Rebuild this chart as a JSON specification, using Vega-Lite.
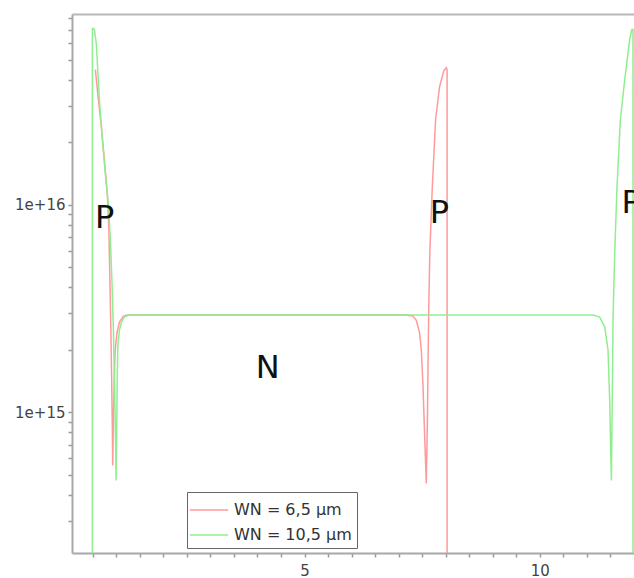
{
  "$schema": "https://vega.github.io/schema/vega-lite/v6.json",
  "autosize": "none",
  "width": 562,
  "height": 539,
  "padding": {"left": 72, "top": 14, "right": 0, "bottom": 25},
  "background": "white",
  "config": {
    "view": {"stroke": null},
    "axis": {
      "grid": false,
      "title": null,
      "domainColor": "#a8a8a8",
      "domainWidth": 2,
      "tickColor": "#999999",
      "tickWidth": 1.5,
      "labelColor": "#444444",
      "labelFont": "DejaVu Sans",
      "labelFontSize": 15,
      "labelOverlap": false,
      "labelBound": false,
      "labelFlush": false
    }
  },
  "datasets": {
    "red": [
      {"i":0,"x":0.557,"y":4.49e16,"s":"WN = 6,5 µm"},
      {"i":1,"x":0.621,"y":3.21e16,"s":"WN = 6,5 µm"},
      {"i":2,"x":0.684,"y":2.38e16,"s":"WN = 6,5 µm"},
      {"i":3,"x":0.748,"y":1.65e16,"s":"WN = 6,5 µm"},
      {"i":4,"x":0.812,"y":1.12e16,"s":"WN = 6,5 µm"},
      {"i":5,"x":0.844,"y":7.57e15,"s":"WN = 6,5 µm"},
      {"i":6,"x":0.865,"y":4.34e15,"s":"WN = 6,5 µm"},
      {"i":7,"x":0.886,"y":2.49e15,"s":"WN = 6,5 µm"},
      {"i":8,"x":0.903,"y":1.43e15,"s":"WN = 6,5 µm"},
      {"i":9,"x":0.918,"y":8.18e14,"s":"WN = 6,5 µm"},
      {"i":10,"x":0.925,"y":5.55e14,"s":"WN = 6,5 µm"},
      {"i":11,"x":0.940,"y":9.15e14,"s":"WN = 6,5 µm"},
      {"i":12,"x":0.957,"y":1.43e15,"s":"WN = 6,5 µm"},
      {"i":13,"x":0.978,"y":2.0e15,"s":"WN = 6,5 µm"},
      {"i":14,"x":1.014,"y":2.41e15,"s":"WN = 6,5 µm"},
      {"i":15,"x":1.067,"y":2.72e15,"s":"WN = 6,5 µm"},
      {"i":16,"x":1.152,"y":2.91e15,"s":"WN = 6,5 µm"},
      {"i":17,"x":1.237,"y":2.95e15,"s":"WN = 6,5 µm"},
      {"i":18,"x":7.126,"y":2.95e15,"s":"WN = 6,5 µm"},
      {"i":19,"x":7.302,"y":2.91e15,"s":"WN = 6,5 µm"},
      {"i":20,"x":7.375,"y":2.78e15,"s":"WN = 6,5 µm"},
      {"i":21,"x":7.445,"y":2.41e15,"s":"WN = 6,5 µm"},
      {"i":22,"x":7.481,"y":2.0e15,"s":"WN = 6,5 µm"},
      {"i":23,"x":7.515,"y":1.38e15,"s":"WN = 6,5 µm"},
      {"i":24,"x":7.551,"y":7.92e14,"s":"WN = 6,5 µm"},
      {"i":25,"x":7.587,"y":4.54e14,"s":"WN = 6,5 µm"},
      {"i":26,"x":7.611,"y":9.15e14,"s":"WN = 6,5 µm"},
      {"i":27,"x":7.625,"y":1.78e15,"s":"WN = 6,5 µm"},
      {"i":28,"x":7.642,"y":3.48e15,"s":"WN = 6,5 µm"},
      {"i":29,"x":7.664,"y":6.07e15,"s":"WN = 6,5 µm"},
      {"i":30,"x":7.715,"y":1.22e16,"s":"WN = 6,5 µm"},
      {"i":31,"x":7.785,"y":2.58e16,"s":"WN = 6,5 µm"},
      {"i":32,"x":7.870,"y":3.72e16,"s":"WN = 6,5 µm"},
      {"i":33,"x":7.955,"y":4.40e16,"s":"WN = 6,5 µm"},
      {"i":34,"x":8.012,"y":4.59e16,"s":"WN = 6,5 µm"},
      {"i":35,"x":8.029,"y":4.49e16,"s":"WN = 6,5 µm"},
      {"i":36,"x":8.029,"y":1e14,"s":"WN = 6,5 µm"}
    ],
    "green": [
      {"i":0,"x":0.493,"y":1e14,"s":"WN = 10,5 µm"},
      {"i":1,"x":0.493,"y":7.08e16,"s":"WN = 10,5 µm"},
      {"i":2,"x":0.515,"y":7.08e16,"s":"WN = 10,5 µm"},
      {"i":3,"x":0.536,"y":7.0e16,"s":"WN = 10,5 µm"},
      {"i":4,"x":0.578,"y":5.93e16,"s":"WN = 10,5 µm"},
      {"i":5,"x":0.642,"y":3.21e16,"s":"WN = 10,5 µm"},
      {"i":6,"x":0.706,"y":2.06e16,"s":"WN = 10,5 µm"},
      {"i":7,"x":0.770,"y":1.40e16,"s":"WN = 10,5 µm"},
      {"i":8,"x":0.833,"y":1.0e16,"s":"WN = 10,5 µm"},
      {"i":9,"x":0.876,"y":6.78e15,"s":"WN = 10,5 µm"},
      {"i":10,"x":0.908,"y":4.34e15,"s":"WN = 10,5 µm"},
      {"i":11,"x":0.940,"y":2.49e15,"s":"WN = 10,5 µm"},
      {"i":12,"x":0.961,"y":1.43e15,"s":"WN = 10,5 µm"},
      {"i":13,"x":0.982,"y":8.18e14,"s":"WN = 10,5 µm"},
      {"i":14,"x":0.997,"y":4.69e14,"s":"WN = 10,5 µm"},
      {"i":15,"x":1.010,"y":8.18e14,"s":"WN = 10,5 µm"},
      {"i":16,"x":1.020,"y":1.43e15,"s":"WN = 10,5 µm"},
      {"i":17,"x":1.035,"y":2.11e15,"s":"WN = 10,5 µm"},
      {"i":18,"x":1.067,"y":2.49e15,"s":"WN = 10,5 µm"},
      {"i":19,"x":1.110,"y":2.72e15,"s":"WN = 10,5 µm"},
      {"i":20,"x":1.174,"y":2.88e15,"s":"WN = 10,5 µm"},
      {"i":21,"x":1.280,"y":2.95e15,"s":"WN = 10,5 µm"},
      {"i":22,"x":11.129,"y":2.95e15,"s":"WN = 10,5 µm"},
      {"i":23,"x":11.271,"y":2.88e15,"s":"WN = 10,5 µm"},
      {"i":24,"x":11.378,"y":2.58e15,"s":"WN = 10,5 µm"},
      {"i":25,"x":11.448,"y":2.0e15,"s":"WN = 10,5 µm"},
      {"i":26,"x":11.484,"y":1.14e15,"s":"WN = 10,5 µm"},
      {"i":27,"x":11.505,"y":6.55e14,"s":"WN = 10,5 µm"},
      {"i":28,"x":11.520,"y":4.69e14,"s":"WN = 10,5 µm"},
      {"i":29,"x":11.533,"y":9.15e14,"s":"WN = 10,5 µm"},
      {"i":30,"x":11.548,"y":1.78e15,"s":"WN = 10,5 µm"},
      {"i":31,"x":11.554,"y":2.78e15,"s":"WN = 10,5 µm"},
      {"i":32,"x":11.590,"y":5.87e15,"s":"WN = 10,5 µm"},
      {"i":33,"x":11.639,"y":1.22e16,"s":"WN = 10,5 µm"},
      {"i":34,"x":11.711,"y":2.58e16,"s":"WN = 10,5 µm"},
      {"i":35,"x":11.803,"y":4.02e16,"s":"WN = 10,5 µm"},
      {"i":36,"x":11.909,"y":6.27e16,"s":"WN = 10,5 µm"},
      {"i":37,"x":11.952,"y":7.0e16,"s":"WN = 10,5 µm"},
      {"i":38,"x":11.979,"y":7.0e16,"s":"WN = 10,5 µm"},
      {"i":39,"x":11.979,"y":1e14,"s":"WN = 10,5 µm"}
    ],
    "labels": [
      {"t":"P","x":0.55,"y":7.74e15},
      {"t":"P","x":7.663,"y":8.16e15},
      {"t":"P","x":11.736,"y":9.12e15},
      {"t":"N","x":3.964,"y":1.46e15}
    ]
  },
  "resolve": {"axis": {"x": "independent", "y": "independent"}},
  "layer": [
    {
      "data": {"name": "red"},
      "mark": {"type": "line", "strokeWidth": 1.5, "clip": true},
      "encoding": {
        "x": {"field": "x", "type": "quantitative",
              "scale": {"domain": [0.06, 12], "nice": false, "zero": false},
              "axis": {"orient": "bottom",
                       "values": [0.5,1,1.5,2,2.5,3,3.5,4,4.5,5,5.5,6,6.5,7,7.5,8,8.5,9,9.5,10,10.5,11,11.5],
                       "format": "~g",
                       "labelExpr": "datum.value == 5 || datum.value == 10 ? datum.label : ''",
                       "tickSize": 4, "labelPadding": 6}},
        "y": {"field": "y", "type": "quantitative",
              "scale": {"type": "log", "domain": [2.1e14, 8.32e16], "nice": false},
              "axis": {"orient": "left",
                       "values": [3e14,4e14,5e14,6e14,7e14,8e14,9e14,1e15,2e15,3e15,4e15,5e15,6e15,7e15,8e15,9e15,1e16,2e16,3e16,4e16,5e16,6e16,7e16,8e16],
                       "format": ".0e",
                       "labelExpr": "datum.value == 1e15 || datum.value == 1e16 ? datum.label : ''",
                       "tickSize": 4,
                       "labelPadding": 3}},
        "color": {"field": "s", "type": "nominal",
                  "scale": {"domain": ["WN = 6,5 µm", "WN = 10,5 µm"], "range": ["#ff9a9a", "#90ee90"]},
                  "legend": {"orient": "none", "legendX": 115, "legendY": 478, "title": null,
                             "symbolType": "M-1.6,0H1.6", "symbolSize": 576, "symbolStrokeWidth": 1.5,
                             "symbolOffset": 4,
                             "labelFont": "DejaVu Sans", "labelFontSize": 16, "labelColor": "#333333",
                             "labelOffset": 12, "padding": 5, "rowPadding": 4,
                             "strokeColor": "#666666", "fillColor": "white"}},
        "order": {"field": "i", "type": "quantitative"}
      }
    },
    {
      "data": {"name": "green"},
      "mark": {"type": "line", "strokeWidth": 1.5, "clip": true},
      "encoding": {
        "x": {"field": "x", "type": "quantitative", "scale": {"domain": [0.06, 12], "nice": false, "zero": false}, "axis": null},
        "y": {"field": "y", "type": "quantitative", "scale": {"type": "log", "domain": [2.1e14, 8.32e16], "nice": false}, "axis": null},
        "color": {"field": "s", "type": "nominal",
                  "scale": {"domain": ["WN = 6,5 µm", "WN = 10,5 µm"], "range": ["#ff9a9a", "#90ee90"]},
                  "legend": {"orient": "none", "legendX": 115, "legendY": 478, "title": null,
                             "symbolType": "M-1.6,0H1.6", "symbolSize": 576, "symbolStrokeWidth": 1.5,
                             "symbolOffset": 4,
                             "labelFont": "DejaVu Sans", "labelFontSize": 16, "labelColor": "#333333",
                             "labelOffset": 12, "padding": 5, "rowPadding": 4,
                             "strokeColor": "#666666", "fillColor": "white"}},
        "order": {"field": "i", "type": "quantitative"}
      }
    },
    {
      "data": {"name": "labels"},
      "mark": {"type": "text", "align": "left", "baseline": "alphabetic", "font": "DejaVu Sans", "fontSize": 32, "color": "#111111"},
      "encoding": {
        "x": {"field": "x", "type": "quantitative", "scale": {"domain": [0.06, 12], "nice": false, "zero": false},
              "axis": {"orient": "top", "labels": false, "ticks": false, "domainColor": "#b8b8b8", "domainWidth": 2}},
        "y": {"field": "y", "type": "quantitative", "scale": {"type": "log", "domain": [2.1e14, 8.32e16], "nice": false}, "axis": null},
        "text": {"field": "t"}
      }
    }
  ]
}
